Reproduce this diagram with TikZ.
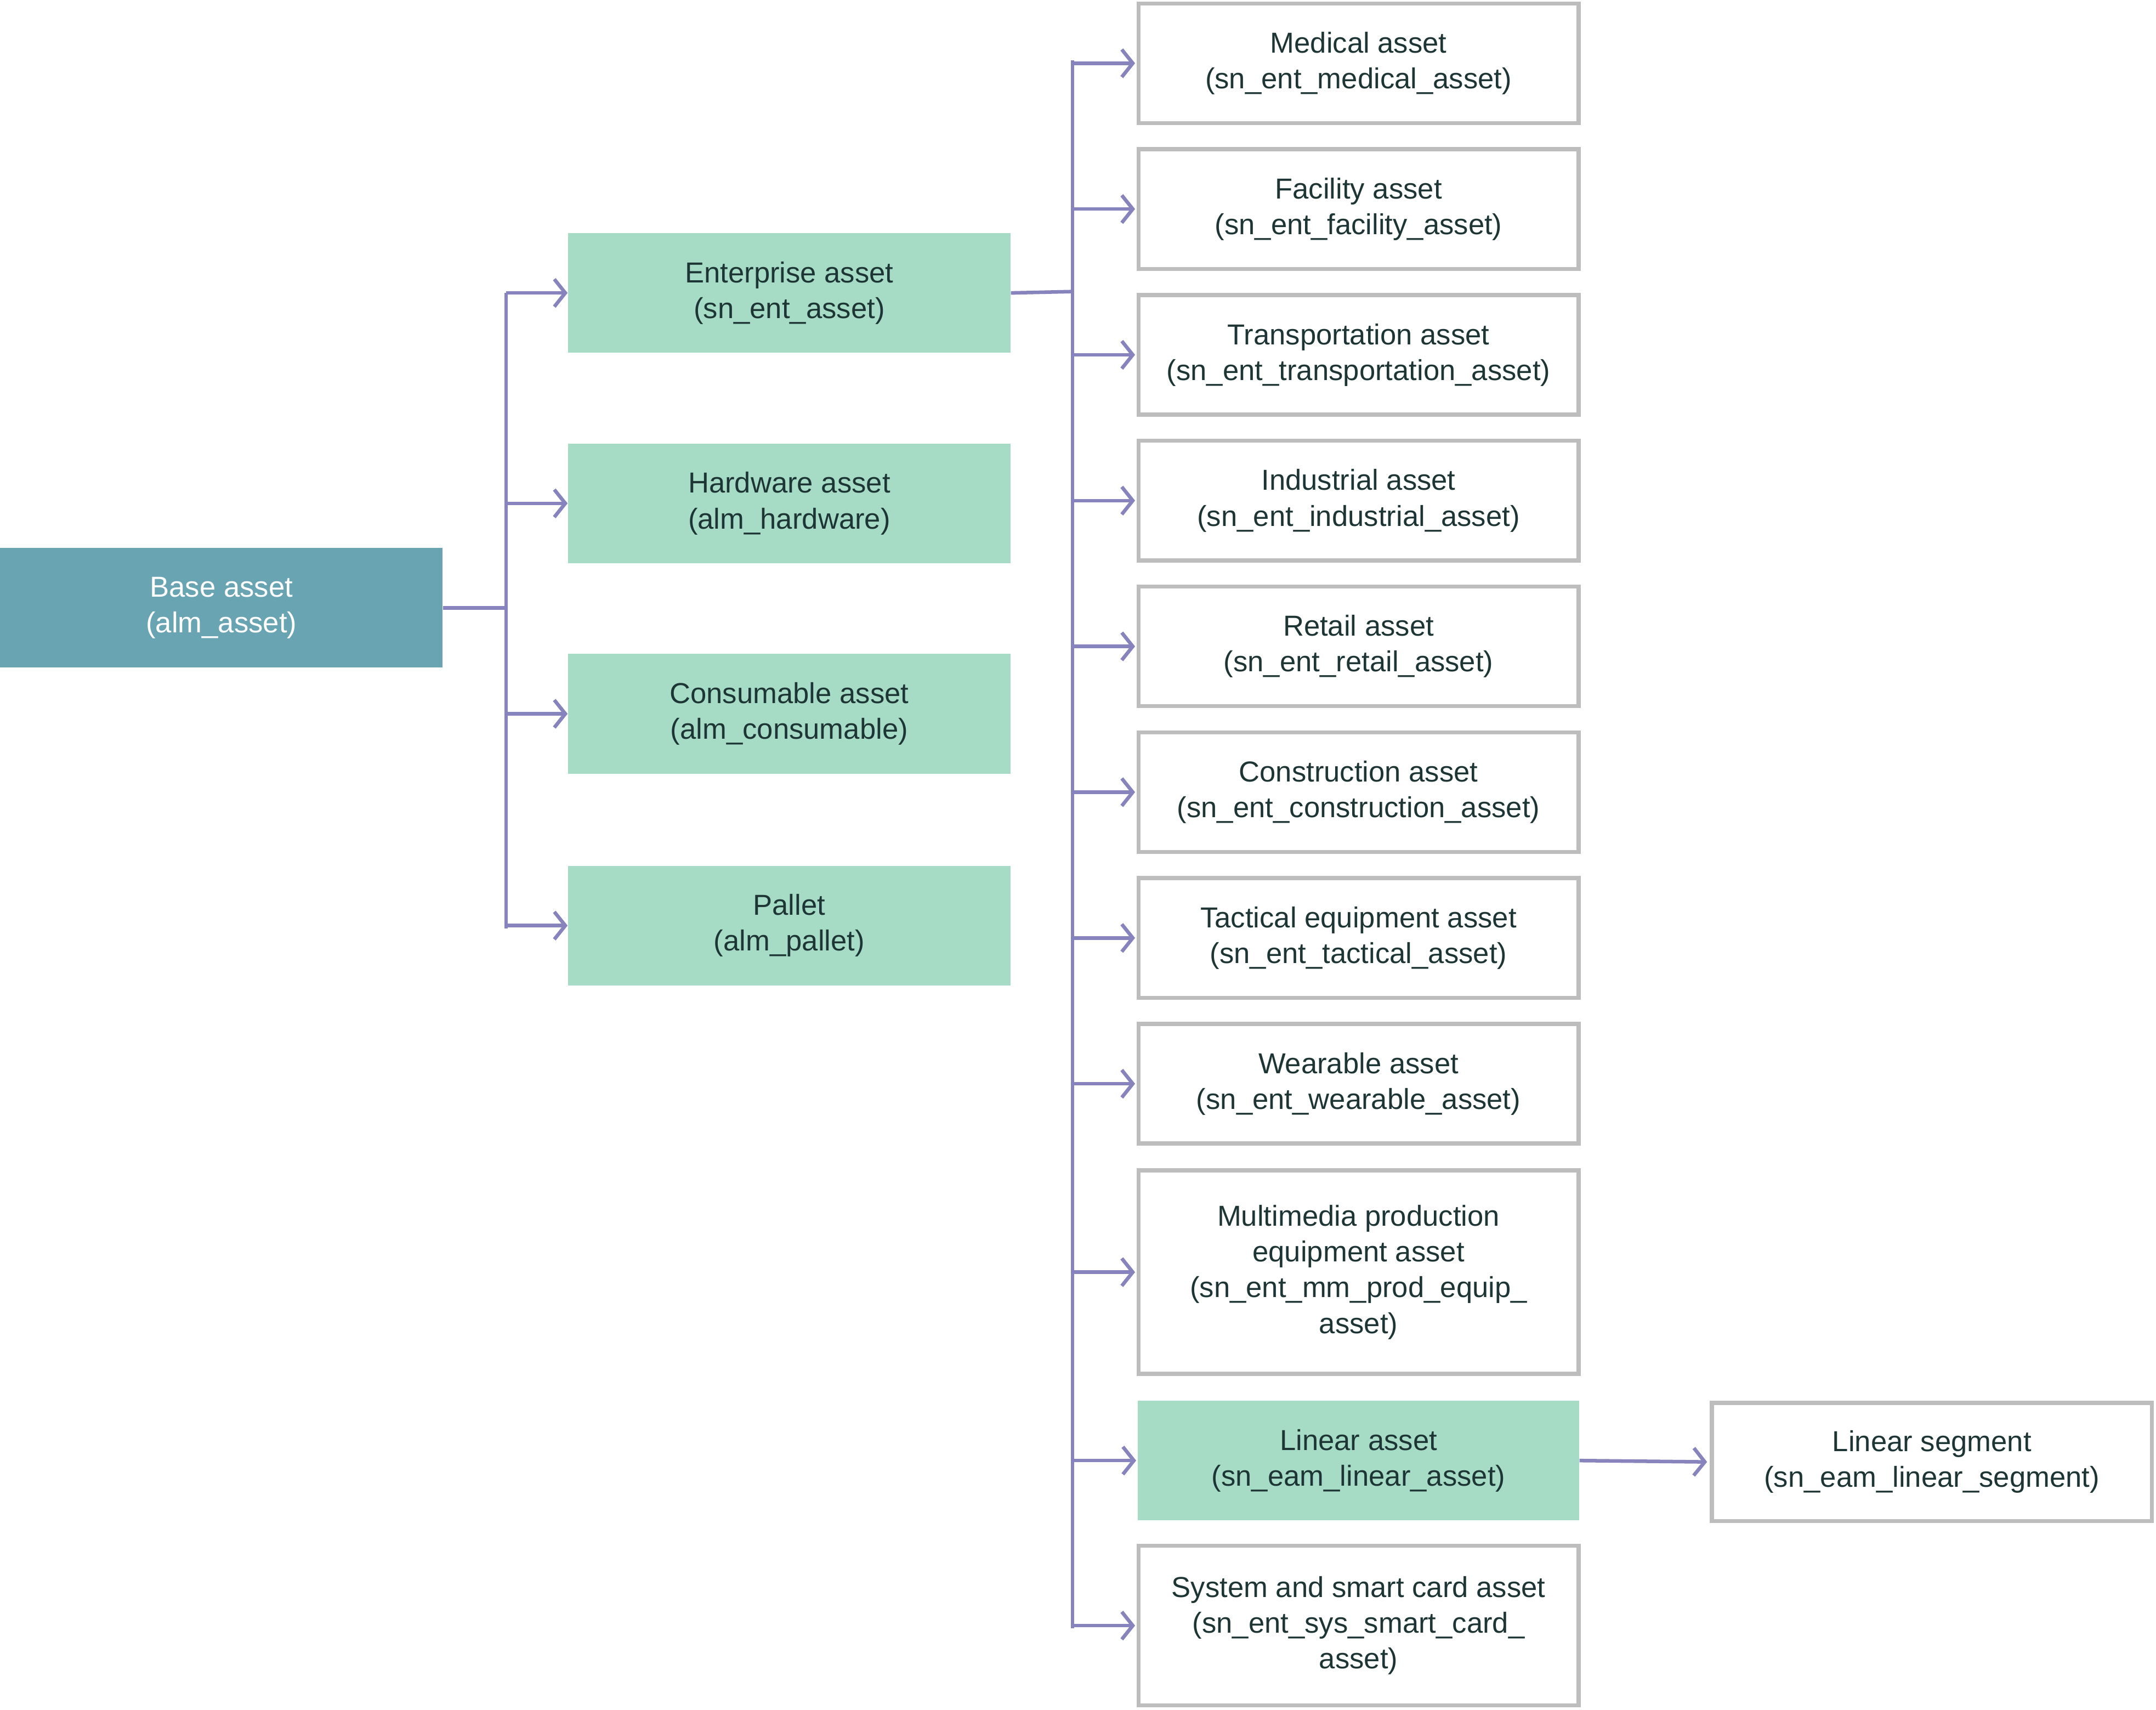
\documentclass[tikz,border=0pt]{standalone}
\usepackage{fontspec}
\setmainfont{Liberation Sans}
\usetikzlibrary{arrows.meta}
\definecolor{basec}{HTML}{69A4B3}
\definecolor{greenc}{HTML}{A6DCC6}
\definecolor{arrc}{HTML}{8783BD}
\definecolor{bordc}{HTML}{BDBDBD}
\definecolor{txtc}{HTML}{1E3535}
\begin{document}
\begin{tikzpicture}[x=1pt,y=-1pt,
  box/.style={draw=bordc,line width=3pt,fill=white,minimum width=320pt,align=center,inner sep=0pt,text=txtc,font=\fontsize{21}{26}\selectfont},
  gbox/.style={fill=greenc,minimum width=322pt,minimum height=87pt,align=center,inner sep=0pt,text=txtc,font=\fontsize{21}{26}\selectfont},
  bbox/.style={fill=basec,minimum width=322pt,minimum height=87pt,align=center,inner sep=0pt,text=white,font=\fontsize{21}{26}\selectfont},
  arr/.style={draw=arrc,line width=2.6pt,-{Straight Barb[length=8pt,width=20pt,line width=2.6pt]}},
  ln/.style={draw=arrc,line width=2.6pt}]
\useasboundingbox (0,0) rectangle (1568,1243);
\node[bbox] (base) at (161,442) {Base asset\\(alm\_asset)};
\node[gbox] (ent) at (574,213) {Enterprise asset\\(sn\_ent\_asset)};
\node[gbox] (hw) at (574,366) {Hardware asset\\(alm\_hardware)};
\node[gbox] (con) at (574,519) {Consumable asset\\(alm\_consumable)};
\node[gbox] (pal) at (574,673) {Pallet\\(alm\_pallet)};
\node[box,minimum height=87pt] (med) at (988,46) {Medical asset\\(sn\_ent\_medical\_asset)};
\node[box,minimum height=87pt] (fac) at (988,152) {Facility asset\\(sn\_ent\_facility\_asset)};
\node[box,minimum height=87pt] (tra) at (988,258) {Transportation asset\\(sn\_ent\_transportation\_asset)};
\node[box,minimum height=87pt] (ind) at (988,364) {Industrial asset\\(sn\_ent\_industrial\_asset)};
\node[box,minimum height=87pt] (ret) at (988,470) {Retail asset\\(sn\_ent\_retail\_asset)};
\node[box,minimum height=87pt] (cst) at (988,576) {Construction asset\\(sn\_ent\_construction\_asset)};
\node[box,minimum height=87pt] (tac) at (988,682) {Tactical equipment asset\\(sn\_ent\_tactical\_asset)};
\node[box,minimum height=87pt] (wea) at (988,788) {Wearable asset\\(sn\_ent\_wearable\_asset)};
\node[box,minimum height=148pt] (mm) at (988,925) {Multimedia production\\equipment asset\\(sn\_ent\_mm\_prod\_equip\_\\asset)};
\node[gbox,minimum width=321pt] (lin) at (988,1062) {Linear asset\\(sn\_eam\_linear\_asset)};
\node[box,minimum height=116pt] (sys) at (988,1182) {System and smart card asset\\(sn\_ent\_sys\_smart\_card\_\\asset)};
\node[box,minimum height=86pt] (seg) at (1405,1063) {Linear segment\\(sn\_eam\_linear\_segment)};
\coordinate (t1) at (368,442);
\coordinate (t1a) at (368,213);
\coordinate (t1b) at (368,675);
\draw[ln] (base.east) -- (t1);
\draw[ln] (t1a) -- (t1b);
\foreach \n in {ent,hw,con,pal}{\draw[arr] (t1a|-\n.west) -- (\n.west);}
\coordinate (t2) at (780,212);
\coordinate (t2a) at (780,44);
\coordinate (t2b) at (780,1184);
\draw[ln] (ent.east) -- (t2);
\draw[ln] (t2a) -- (t2b);
\foreach \n in {med,fac,tra,ind,ret,cst,tac,wea,mm,lin,sys}{\draw[arr] (t2a|-\n.west) -- ([xshift=-1pt]\n.west);}
\draw[arr] (lin.east) -- ([xshift=-2pt]seg.west);
\end{tikzpicture}
\end{document}
